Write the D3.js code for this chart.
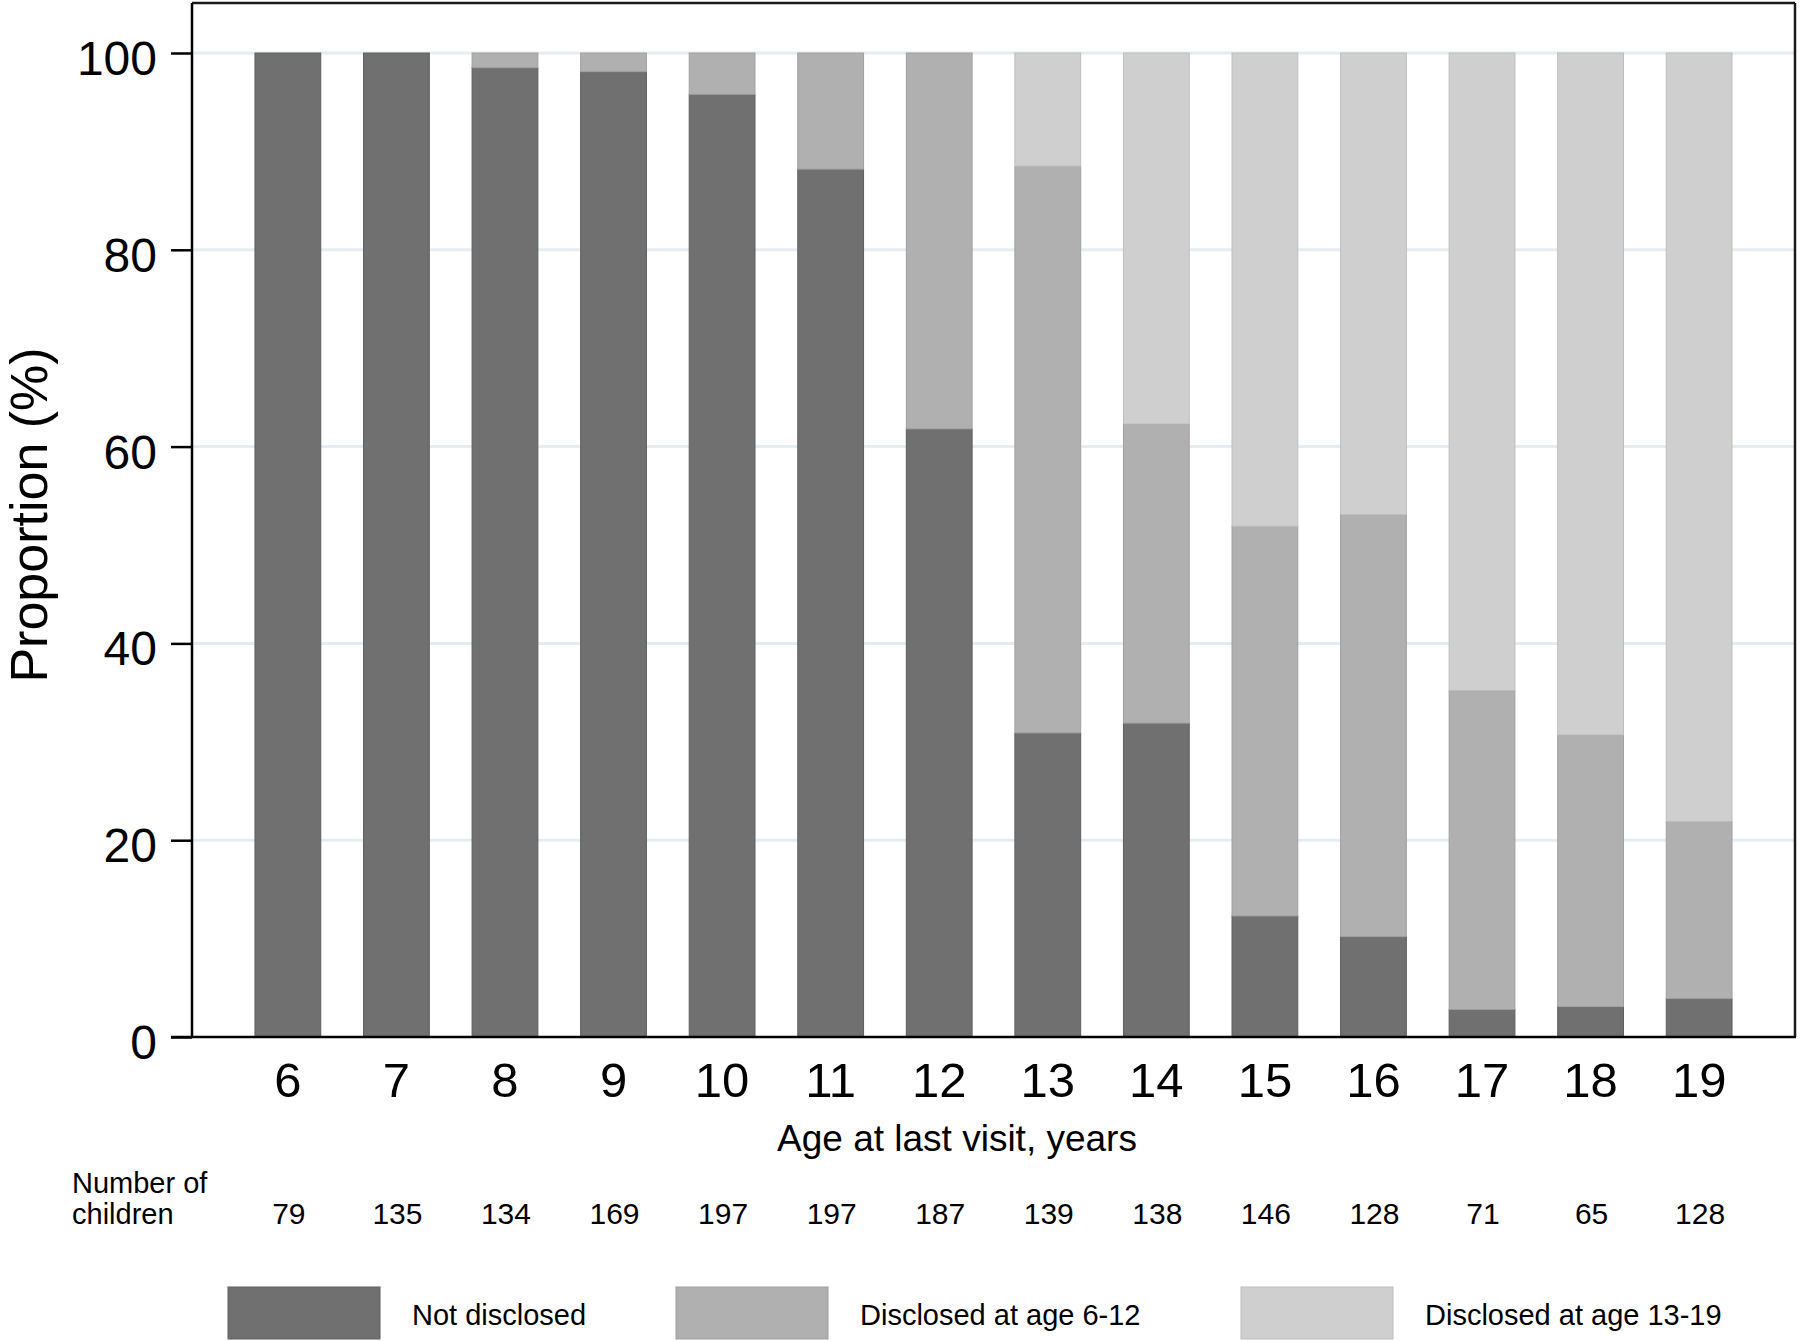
<!DOCTYPE html>
<html>
<head>
<meta charset="utf-8">
<script src="https://cdn.jsdelivr.net/npm/d3@7"></script>
<style>
  html, body { margin: 0; padding: 0; background: #ffffff; }
  svg { display: block; }
  text { font-family: "Liberation Sans", Arial, Helvetica, sans-serif; fill: #000; }
</style>
</head>
<body>
<script>
// ---------------- data ----------------
const ages = ["6","7","8","9","10","11","12","13","14","15","16","17","18","19"];
const notDisclosed   = [100, 100, 98.5, 98.1, 95.8, 88.2, 61.8, 30.9, 31.9, 12.3, 10.2, 2.8, 3.1, 3.9];
const disclosed6to12 = [0, 0, 1.5, 1.9, 4.2, 11.8, 38.2, 57.6, 30.4, 39.6, 42.9, 32.4, 27.6, 18.0];
const disclosed13to19= [0, 0, 0, 0, 0, 0, 0, 11.5, 37.7, 48.1, 46.9, 64.8, 69.3, 78.1];
const childrenCounts = [79, 135, 134, 169, 197, 197, 187, 139, 138, 146, 128, 71, 65, 128];
const yTickValues = [0, 20, 40, 60, 80, 100];
const seriesKeys = ["nd", "d612", "d1319"];
const seriesLabels = ["Not disclosed", "Disclosed at age 6-12", "Disclosed at age 13-19"];
const yAxisTitle = "Proportion (%)";
const xAxisTitle = "Age at last visit, years";
const countLabelLines = ["Number of", "children"];

// ---------------- styling ----------------
const W = 1800, H = 1341;
const fills   = { nd: "#707070", d612: "#b0b0b0", d1319: "#d0cfcf" };
const strokes = { nd: "#5e5e5e", d612: "#a39e9e", d1319: "#bfbdb9" };

const svg = d3.select("body").append("svg").attr("width", W).attr("height", H);

const plotLeft = 192, plotRight = 1795, plotTop = 3;

const x = d3.scaleBand().domain(ages).range([plotLeft, plotRight])
  .paddingInner(0.394).paddingOuter(0.58);
const y = d3.scaleLinear().domain([0, 100]).range([1037, 53]);

const rows = ages.map((a, i) => ({ age: a, nd: notDisclosed[i], d612: disclosed6to12[i], d1319: disclosed13to19[i] }));
const stacked = d3.stack().keys(seriesKeys)(rows);

// gridlines
svg.append("g").selectAll("line").data(yTickValues.filter(v => v > 0)).join("line")
  .attr("x1", plotLeft + 1).attr("x2", plotRight)
  .attr("y1", d => y(d)).attr("y2", d => y(d))
  .attr("stroke", "#e4eef2").attr("stroke-width", 3);

// bars
const gBars = svg.append("g");
stacked.forEach(layer => {
  gBars.append("g").selectAll("rect")
    .data(layer.filter(d => d[1] - d[0] > 0))
    .join("rect")
    .attr("x", d => x(d.data.age))
    .attr("width", x.bandwidth())
    .attr("y", d => y(d[1]))
    .attr("height", d => y(d[0]) - y(d[1]))
    .attr("fill", fills[layer.key])
    .attr("stroke", strokes[layer.key])
    .attr("stroke-width", 1);
});

// frame: top and right
svg.append("line").attr("x1", plotLeft).attr("x2", plotRight).attr("y1", plotTop).attr("y2", plotTop)
  .attr("stroke", "#1a1a1a").attr("stroke-width", 2.5);
svg.append("line").attr("x1", plotRight).attr("x2", plotRight).attr("y1", plotTop).attr("y2", y(0))
  .attr("stroke", "#1a1a1a").attr("stroke-width", 2.5);

// y axis
const yAxis = d3.axisLeft(y).tickValues(yTickValues).tickSize(21).tickPadding(14).tickFormat(d3.format("d"));
const gy = svg.append("g").attr("transform", `translate(${plotLeft},0)`).call(yAxis);
gy.select(".domain").attr("stroke", "#000").attr("stroke-width", 2.5)
  .attr("d", `M0,${plotTop}V${y(0)}`);
gy.selectAll(".tick line").attr("stroke", "#000").attr("stroke-width", 2.5);
gy.selectAll(".tick text").attr("font-size", 48).attr("dy", null).attr("y", 21.5)
  .attr("font-family", "'Liberation Sans', Arial, sans-serif").attr("fill", "#000");

// x axis
const xAxis = d3.axisBottom(x).tickSize(0).tickPadding(0);
const gx = svg.append("g").attr("transform", `translate(0,${y(0)})`).call(xAxis);
gx.select(".domain").attr("stroke", "#000").attr("stroke-width", 2.5)
  .attr("d", `M${plotLeft - 21},0H${plotRight + 1}`);
gx.selectAll(".tick text").attr("font-size", 49).attr("dy", null).attr("y", 60)
  .attr("font-family", "'Liberation Sans', Arial, sans-serif").attr("fill", "#000");

// axis titles
svg.append("text").attr("x", 957).attr("y", 1151).attr("text-anchor", "middle")
  .attr("font-size", 37).text(xAxisTitle);
svg.append("text").attr("transform", "translate(47,515) rotate(-90)").attr("text-anchor", "middle")
  .attr("font-size", 52).text(yAxisTitle);

// number of children row
svg.append("text").attr("x", 72).attr("y", 1193).attr("font-size", 29).text(countLabelLines[0]);
svg.append("text").attr("x", 72).attr("y", 1224).attr("font-size", 29).text(countLabelLines[1]);
svg.append("g").selectAll("text").data(childrenCounts).join("text")
  .attr("x", (d, i) => x(ages[i]) + x.bandwidth() / 2 + 1)
  .attr("y", 1224).attr("text-anchor", "middle").attr("font-size", 30)
  .text(d => d);

// legend
const legendX = [228, 676, 1241];
const legend = svg.append("g");
seriesKeys.forEach((k, i) => {
  legend.append("rect").attr("x", legendX[i]).attr("y", 1287).attr("width", 152).attr("height", 52)
    .attr("fill", fills[k]).attr("stroke", strokes[k]).attr("stroke-width", 1);
  legend.append("text").attr("x", legendX[i] + 184).attr("y", 1325).attr("font-size", 29).text(seriesLabels[i]);
});
</script>
</body>
</html>
